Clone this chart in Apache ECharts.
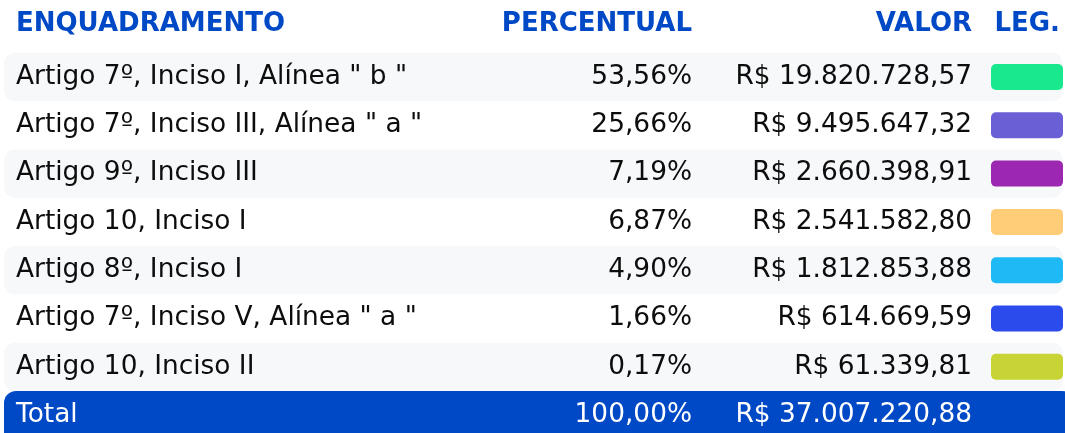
<!DOCTYPE html>
<html>
<head>
<meta charset="utf-8">
<script src="https://cdn.jsdelivr.net/npm/echarts@6/dist/echarts.min.js"></script>
<style>
  html, body { margin: 0; padding: 0; background: #ffffff; overflow: hidden; }
  #chart { width: 1065px; height: 442px; }
</style>
</head>
<body>
<div id="chart"></div>
<script>
// ---- Data ----
const headers = ['ENQUADRAMENTO', 'PERCENTUAL', 'VALOR', 'LEG.'];
const categories = [
  'Artigo 7º, Inciso I, Alínea " b "',
  'Artigo 7º, Inciso III, Alínea " a "',
  'Artigo 9º, Inciso III',
  'Artigo 10, Inciso I',
  'Artigo 8º, Inciso I',
  'Artigo 7º, Inciso V, Alínea " a "',
  'Artigo 10, Inciso II',
  'Total'
];
const percentuais = [53.56, 25.66, 7.19, 6.87, 4.90, 1.66, 0.17, 100.00];
const valores = [19820728.57, 9495647.32, 2660398.91, 2541582.80, 1812853.88, 614669.59, 61339.81, 37007220.88];
const legendColors = ['#19e88e', '#6a5fd4', '#9c27b0', '#ffcd78', '#1fbaf6', '#2b4bed', '#c8d436', null];

// ---- Style ----
const BLUE = '#0049c6';
const ROW_GRAY = '#f7f8fa';
const FONT = '"DejaVu Sans", sans-serif';
const FS = 26.4;
const HFS = 26;

function fmtNum(v, dec) {
  const parts = v.toFixed(dec).split('.');
  const intPart = parts[0].replace(/\B(?=(\d{3})+(?!\d))/g, '.');
  return intPart + ',' + parts[1];
}

const chart = echarts.init(document.getElementById('chart'), null, { renderer: 'canvas' });

const data = categories.map((c, i) => [0, i]);

function renderItem(params, api) {
  const i = api.value(1);
  const pt = api.coord([0, i]);
  const band = api.size([0, 1])[1];
  const cy = pt[1];
  const isTotal = i === categories.length - 1;
  const textFill = isTotal ? '#ffffff' : '#0d0d0d';
  const children = [];
  if (isTotal) {
    children.push({
      type: 'rect',
      shape: { x: 4, y: cy - band / 2, width: 1070, height: band + 10, r: [12, 12, 0, 0] },
      style: { fill: BLUE }
    });
  } else if (i % 2 === 0) {
    children.push({
      type: 'rect',
      shape: { x: 4, y: cy - band / 2, width: 1059, height: band, r: 11 },
      style: { fill: ROW_GRAY }
    });
  }
  children.push({
    type: 'text',
    style: { x: 16, y: cy, text: categories[i], fill: textFill, font: FS + 'px ' + FONT, textAlign: 'left', textVerticalAlign: 'middle' }
  });
  children.push({
    type: 'text',
    style: { x: 692, y: cy, text: fmtNum(percentuais[i], 2) + '%', fill: textFill, font: FS + 'px ' + FONT, textAlign: 'right', textVerticalAlign: 'middle' }
  });
  children.push({
    type: 'text',
    style: { x: 972, y: cy, text: 'R$ ' + fmtNum(valores[i], 2), fill: textFill, font: FS + 'px ' + FONT, textAlign: 'right', textVerticalAlign: 'middle' }
  });
  if (legendColors[i]) {
    children.push({
      type: 'rect',
      shape: { x: 991, y: cy - 13, width: 72, height: 26, r: 5 },
      style: { fill: legendColors[i] }
    });
  }
  return { type: 'group', children: children };
}

const headerStyle = { fill: BLUE, font: 'bold ' + HFS + 'px ' + FONT, textVerticalAlign: 'middle' };

chart.setOption({
  animation: false,
  grid: { left: 0, right: 0, top: 52.85, bottom: 2.75 },
  xAxis: { type: 'value', min: 0, max: 1065, show: false },
  yAxis: { type: 'category', data: categories, inverse: true, show: false },
  graphic: [
    { type: 'text', x: 16, y: 24, style: Object.assign({}, headerStyle, { text: headers[0], textAlign: 'left' }) },
    { type: 'text', x: 692, y: 24, style: Object.assign({}, headerStyle, { text: headers[1], textAlign: 'right' }) },
    { type: 'text', x: 972, y: 24, style: Object.assign({}, headerStyle, { text: headers[2], textAlign: 'right' }) },
    { type: 'text', x: 1060, y: 24, style: Object.assign({}, headerStyle, { text: headers[3], textAlign: 'right' }) }
  ],
  series: [{
    type: 'custom',
    renderItem: renderItem,
    data: data,
    clip: false
  }]
});
</script>
</body>
</html>
